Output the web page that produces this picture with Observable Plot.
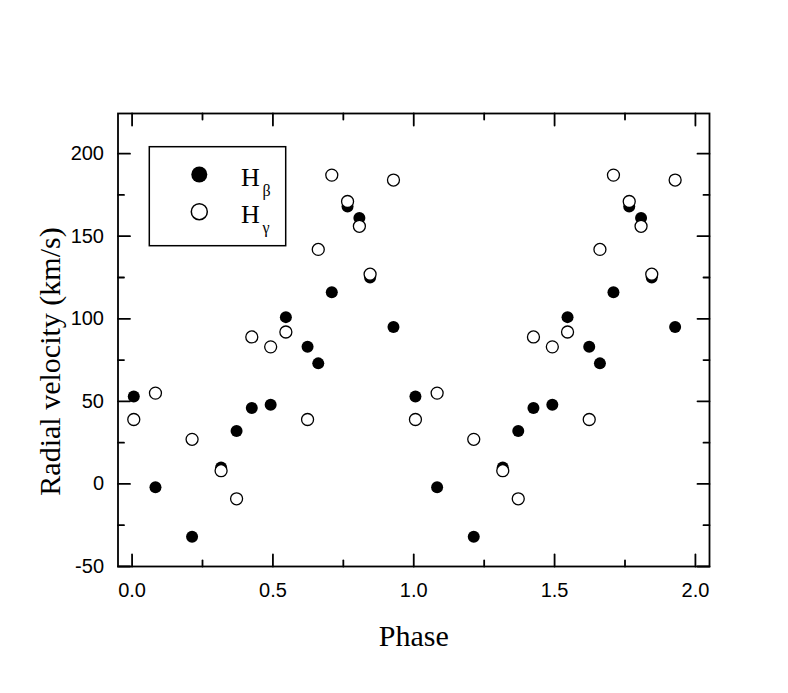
<!DOCTYPE html>
<html><head><meta charset="utf-8">
<script src="https://cdn.jsdelivr.net/npm/d3@7"></script>
<script src="https://cdn.jsdelivr.net/npm/@observablehq/plot@0.6"></script>
<style>body{margin:0;background:#fff}</style>
</head><body><div id="chart"></div>
<script>
// Orbital phase of each spectrum (one cycle; plotted twice, phase and phase+1)
const phase  = [0.006, 0.083, 0.213, 0.316, 0.371, 0.425, 0.492, 0.546, 0.623, 0.661, 0.709, 0.765, 0.807, 0.845, 0.928];
// Radial velocities (km/s)
const hBeta  = [53, -2, -32, 10, 32, 46, 48, 101, 83, 73, 116, 168, 161, 125, 95];
const hGamma = [39, 55, 27, 8, -9, 89, 83, 92, 39, 142, 187, 171, 156, 127, 184];
const cycles = [0, 1];
const seriesNames = ["β", "γ"];

const xMajor = [0, 0.5, 1, 1.5, 2];
const xMinor = [0.25, 0.75, 1.25, 1.75];
const yMajor = [-50, 0, 50, 100, 150, 200];
const yMinor = [-25, 25, 75, 125, 175];

const rows = cycles.flatMap(c => phase.map((p, i) => ({phase: p + c, beta: hBeta[i], gamma: hGamma[i]})));

const line = {draw(ctx, l) { ctx.moveTo(0, 0); ctx.lineTo(0, -l); }};
const serif = "'Liberation Serif', 'Times New Roman', serif";
const sans = "'Liberation Sans', Arial, sans-serif";
const SW = 1.8;

function ticks(data, dim, anchor, rotate, length) {
  const f = dim === "x" ? Plot.vectorX : Plot.vectorY;
  return f(data, {[dim]: d => d, frameAnchor: anchor, rotate, length, anchor: "start",
    shape: line, stroke: "#000", strokeWidth: SW});
}

const plot = Plot.plot({
  width: 788, height: 693,
  marginLeft: 117.5, marginRight: 79, marginTop: 113, marginBottom: 127,
  x: {domain: [-0.05, 2.05]},
  y: {domain: [-50, 224.3]},
  style: {fontFamily: sans, fontSize: "20px", color: "#000", background: "#fff"},
  marks: [
    Plot.axisX(xMajor, {tickSize: 0, tickPadding: 16, tickFormat: d3.format(".1f"), label: null, fontSize: 20}),
    Plot.axisY(yMajor, {tickSize: 0, tickPadding: 14, tickFormat: d => String(d), label: null, fontSize: 20}),
    ticks(xMajor, "x", "bottom", 0, 12),
    ticks(xMinor, "x", "bottom", 0, 6),
    ticks(xMajor, "x", "top", 180, 12),
    ticks(xMinor, "x", "top", 180, 6),
    ticks(yMajor, "y", "left", 90, 12),
    ticks(yMinor, "y", "left", 90, 6),
    ticks(yMajor, "y", "right", -90, 12),
    ticks(yMinor, "y", "right", -90, 6),
    Plot.dot(rows, {x: "phase", y: "beta", r: 6, fill: "#000"}),
    Plot.dot(rows, {x: "phase", y: "gamma", r: 6, fill: "#fff", stroke: "#000", strokeWidth: 1.3}),
    Plot.frame({stroke: "#000", strokeWidth: SW}),
    Plot.text(["Phase"], {frameAnchor: "bottom", dy: 69.5, textAnchor: "middle", lineAnchor: "middle",
      fontFamily: serif, fontSize: 30, fill: "#000"}),
    Plot.text(["Radial velocity (km/s)"], {frameAnchor: "left", rotate: -90, dx: -67.5, dy: 21.5,
      textAnchor: "middle", lineAnchor: "middle", fontFamily: serif, fontSize: 30, fill: "#000"})
  ]
});

// Legend box (inside plot, upper left)
const svg = d3.select(plot);
const lg = svg.append("g").attr("font-family", serif).attr("fill", "#000").attr("text-anchor", "start");
lg.append("rect").attr("x", 149.3).attr("y", 146.7).attr("width", 136.4).attr("height", 99)
  .attr("fill", "none").attr("stroke", "#000").attr("stroke-width", 1.5);
const entries = [
  {cy: 174.5, base: 186.3, sub: 195.5, fill: "#000", stroke: "none"},
  {cy: 211.7, base: 222.8, sub: 232.5, fill: "#fff", stroke: "#000"}
];
entries.forEach((e, i) => {
  lg.append("circle").attr("cx", 199.3).attr("cy", e.cy).attr("r", 8)
    .attr("fill", e.fill).attr("stroke", e.stroke).attr("stroke-width", 1.5);
  lg.append("text").attr("x", 241).attr("y", e.base).attr("font-size", 26).text("H");
  lg.append("text").attr("x", 262.5).attr("y", e.sub).attr("font-size", 16).text(seriesNames[i]);
});

document.getElementById("chart").appendChild(plot);
</script>
</body></html>
